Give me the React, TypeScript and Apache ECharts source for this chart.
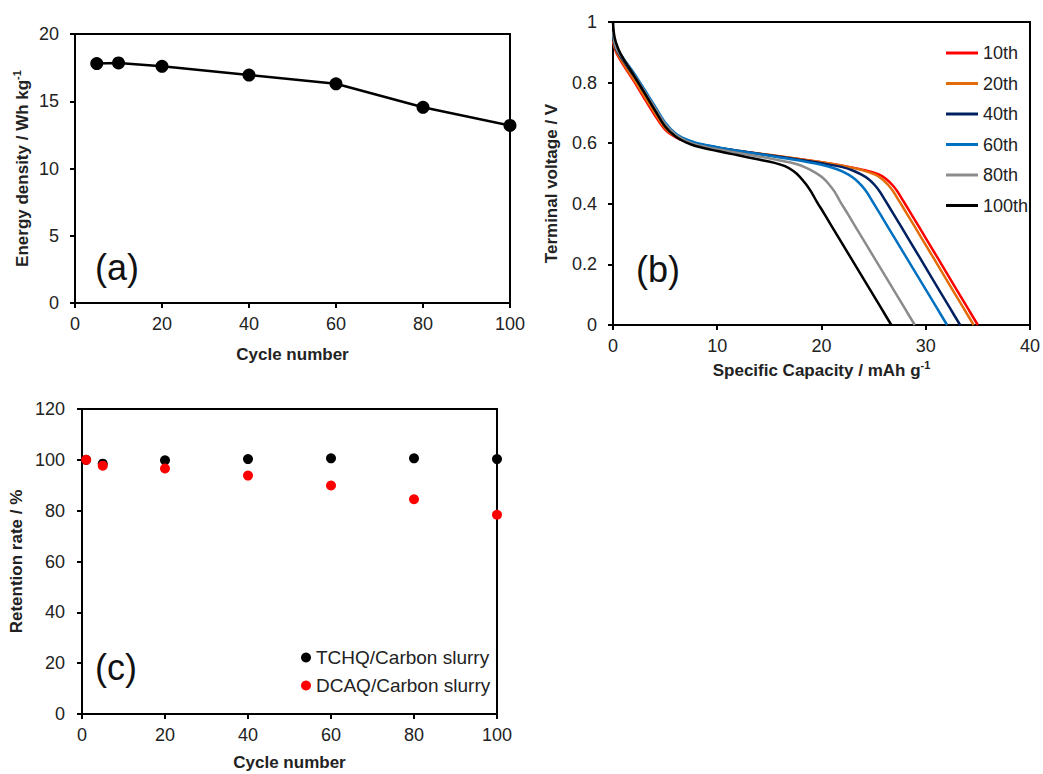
import React, { useEffect, useRef } from "react";
import * as echarts from "echarts";

// Panel (a): energy density vs cycle number
const cycleA = [5, 10, 20, 40, 60, 80, 100];
const energyA = [17.8, 17.85, 17.6, 16.95, 16.3, 14.55, 13.2];

// Panel (b): discharge curves [capacity mAh/g, voltage V]
const curveNames = ["10th", "20th", "40th", "60th", "80th", "100th"];
const curveColors = ["#ff0000", "#e36c09", "#002060", "#0070c0", "#8c8c8c", "#000000"];
const curve10 = [[0,0.935],[0.3,0.9],[1,0.858],[2,0.805],[3,0.748],[4,0.693],[5,0.645],[6,0.62],[7,0.605],[8,0.596],[10,0.584],[12,0.574],[14,0.565],[16,0.556],[18,0.547],[20,0.537],[22,0.526],[24,0.512],[25.5,0.497],[26.2,0.482],[26.8,0.462],[27.3,0.44],[27.8,0.412],[28.6,0.367],[30,0.287],[32,0.172],[34,0.057],[35.0,0]];
const curve20 = [[0,0.94],[0.3,0.905],[1,0.863],[2,0.81],[3,0.755],[4,0.7],[5,0.65],[6,0.622],[7,0.606],[8,0.597],[10,0.585],[12,0.575],[14,0.566],[16,0.557],[18,0.547],[20,0.537],[22,0.526],[23.8,0.512],[25.1,0.497],[25.8,0.482],[26.4,0.462],[26.9,0.44],[27.4,0.412],[28.2,0.367],[29.6,0.287],[31.6,0.172],[33.6,0.057],[34.6,0]];
const curve40 = [[0,0.95],[0.3,0.91],[1,0.872],[2,0.822],[3,0.768],[4,0.713],[5,0.66],[6,0.628],[7,0.61],[8,0.599],[10,0.586],[12,0.575],[14,0.565],[16,0.555],[18,0.545],[20,0.534],[22,0.521],[23,0.51],[23.8,0.497],[24.5,0.482],[25.1,0.462],[25.6,0.44],[26.1,0.412],[26.9,0.367],[28.3,0.287],[30.3,0.172],[32.3,0.057],[33.3,0]];
const curve60 = [[0,0.96],[0.3,0.918],[1,0.88],[2,0.832],[3,0.778],[4,0.723],[5,0.668],[6,0.632],[7,0.613],[8,0.601],[10,0.587],[12,0.575],[14,0.564],[16,0.553],[18,0.542],[20,0.529],[21.5,0.514],[22.55,0.497],[23.25,0.48],[23.85,0.46],[24.35,0.438],[24.85,0.41],[25.65,0.365],[27.05,0.285],[29.05,0.171],[31.05,0.057],[32.05,0]];
const curve80 = [[0,0.97],[0.3,0.915],[1,0.877],[2,0.826],[3,0.772],[4,0.717],[5,0.663],[6,0.628],[7,0.608],[8,0.595],[10,0.58],[12,0.568],[14,0.556],[16,0.543],[17.5,0.532],[18.6,0.518],[19.45,0.502],[20.15,0.485],[20.75,0.463],[21.25,0.44],[21.75,0.41],[22.55,0.365],[23.95,0.285],[25.95,0.171],[27.95,0.057],[28.95,0]];
const curve100 = [[0,1.0],[0.15,0.95],[0.5,0.912],[1,0.878],[2,0.824],[3,0.768],[4,0.71],[5,0.655],[6,0.622],[7,0.603],[8,0.59],[10,0.574],[12,0.56],[14,0.546],[15.5,0.535],[16.5,0.524],[17.3,0.508],[17.9,0.49],[18.5,0.465],[19,0.44],[19.5,0.41],[20.3,0.365],[21.7,0.285],[23.7,0.171],[25.7,0.057],[26.7,0]];
const curves = [curve10, curve20, curve40, curve60, curve80, curve100];

// Panel (c): retention rate
const cycleC = [1, 5, 20, 40, 60, 80, 100];
const tchq = [100, 98.5, 99.8, 100.3, 100.6, 100.6, 100.3];
const dcaq = [100, 97.7, 96.6, 93.8, 89.9, 84.5, 78.4];
const legendC = ["TCHQ/Carbon slurry", "DCAQ/Carbon slurry"];

const FONT = "'Liberation Sans', Arial, Helvetica, sans-serif";

function axis(o: any) {
  return {
    type: "value",
    gridIndex: o.grid,
    min: o.min,
    max: o.max,
    interval: o.interval,
    axisLine: { show: true, onZero: false, lineStyle: { color: "#000", width: 2 } },
    axisTick: { show: true, inside: false, length: 5, lineStyle: { color: "#000", width: 2 } },
    axisLabel: { color: "#222", fontSize: 18, margin: o.margin, fontFamily: FONT, formatter: o.formatter },
    splitLine: { show: false },
    name: o.name,
    nameLocation: "middle",
    nameGap: o.nameGap,
    nameTextStyle: {
      fontWeight: "bold",
      fontSize: 17,
      color: "#222",
      fontFamily: FONT,
      lineHeight: 22,
      padding: o.namePadding || 0,
      rich: {
        sup: { fontSize: 11, lineHeight: 12, verticalAlign: "top", fontWeight: "bold", color: "#222", fontFamily: FONT },
      },
    },
  };
}

export default function App() {
  const ref = useRef<HTMLDivElement>(null);
  useEffect(() => {
    if (!ref.current) return;
    const chart = echarts.init(ref.current, null, { renderer: "svg" });
    const gridStyle = { show: true, borderColor: "#000", borderWidth: 2, backgroundColor: "transparent", containLabel: false };
    const option: any = {
      animation: false,
      backgroundColor: "#fff",
      textStyle: { fontFamily: FONT },
      grid: [
        { left: 75, top: 34, width: 435, height: 269, ...gridStyle },
        { left: 613, top: 22, width: 420, height: 303, ...gridStyle },
        { left: 82, top: 409, width: 415, height: 307, ...gridStyle },
      ],
      xAxis: [
        axis({ grid: 0, min: 0, max: 100, interval: 20, margin: 12, name: "Cycle number", nameGap: 40 }),
        axis({ grid: 1, min: 0, max: 40, interval: 10, margin: 12, name: "Specific Capacity / mAh g{sup|-1}", nameGap: 34 }),
        axis({ grid: 2, min: 0, max: 100, interval: 20, margin: 12, name: "Cycle number", nameGap: 37 }),
      ],
      yAxis: [
        axis({ grid: 0, min: 0, max: 20, interval: 5, margin: 16, name: "Energy density / Wh kg{sup|-1}", nameGap: 42 }),
        axis({ grid: 1, min: 0, max: 1, interval: 0.2, margin: 16, name: "Terminal voltage / V", nameGap: 51, namePadding: [0, 20, 0, 0], formatter: (v: number) => String(Math.round(v * 10) / 10) }),
        axis({ grid: 2, min: 0, max: 120, interval: 20, margin: 17, name: "Retention rate / %", nameGap: 55 }),
      ],
      legend: [
        {
          data: curveNames,
          orient: "vertical",
          left: 941,
          top: 39,
          icon: "rect",
          itemWidth: 32,
          itemHeight: 3,
          itemGap: 12.5,
          textStyle: { fontSize: 18, lineHeight: 18, color: "#222", fontFamily: FONT },
          selectedMode: false,
        },
        {
          data: legendC,
          orient: "vertical",
          left: 296,
          top: 643,
          itemWidth: 10,
          itemHeight: 10,
          itemGap: 9,
          icon: "circle",
          textStyle: { fontSize: 19, color: "#222", fontFamily: FONT },
          selectedMode: false,
        },
      ],
      graphic: [
        { type: "text", left: 95, top: 249, style: { text: "(a)", fontSize: 36, fill: "#111", fontFamily: FONT } },
        { type: "text", left: 636, top: 251, style: { text: "(b)", fontSize: 36, fill: "#111", fontFamily: FONT } },
        { type: "text", left: 95, top: 649, style: { text: "(c)", fontSize: 36, fill: "#111", fontFamily: FONT } },
      ],
      series: [
        {
          type: "line",
          name: "Energy density",
          xAxisIndex: 0,
          yAxisIndex: 0,
          data: cycleA.map((c, i) => [c, energyA[i]]),
          symbol: "circle",
          symbolSize: 13,
          lineStyle: { color: "#000", width: 2.5 },
          itemStyle: { color: "#000" },
          clip: false,
        },
        ...curves.map((c, i) => ({
          type: "line",
          name: curveNames[i],
          xAxisIndex: 1,
          yAxisIndex: 1,
          data: c,
          symbol: "none",
          smooth: 0.35,
          lineStyle: { color: curveColors[i], width: 2.5 },
          itemStyle: { color: curveColors[i] },
        })),
        {
          type: "scatter",
          name: legendC[0],
          xAxisIndex: 2,
          yAxisIndex: 2,
          data: cycleC.map((c, i) => [c, tchq[i]]),
          symbol: "circle",
          symbolSize: 10,
          itemStyle: { color: "#000", opacity: 1 },
          clip: false,
        },
        {
          type: "scatter",
          name: legendC[1],
          xAxisIndex: 2,
          yAxisIndex: 2,
          data: cycleC.map((c, i) => [c, dcaq[i]]),
          symbol: "circle",
          symbolSize: 10,
          itemStyle: { color: "#ff0000", opacity: 1 },
          clip: false,
        },
      ],
    };
    chart.setOption(option);
    return () => chart.dispose();
  }, []);
  return (
    <div
      ref={ref}
      style={{ position: "absolute", left: 0, top: 0, width: 1043, height: 774, background: "#fff" }}
    />
  );
}
